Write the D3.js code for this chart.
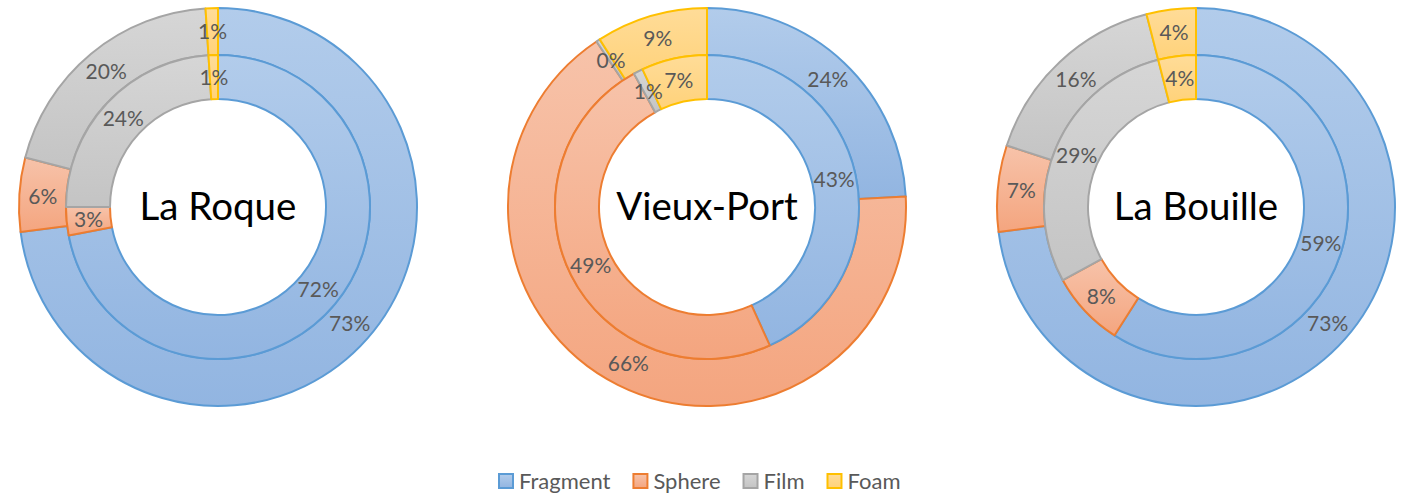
<!DOCTYPE html>
<html lang="en">
<head>
<meta charset="UTF-8">
<title>Double doughnuts</title>
<script src="https://d3js.org/d3.v7.min.js"></script>
<style>
    body { margin: 0; background: #fff; }
    svg { font-family: Lato, "Open Sans", sans-serif; }
</style>
</head>
<body>
<div id="chart"></div>
<script>
// data
var categories = ["Fragment", "Sphere", "Film", "Foam"];
var sites = ["La Roque", "Vieux-Port", "La Bouille"];
var innerValues = [
    [72, 3, 24, 1],
    [43.4, 49, 1, 7],
    [59, 8, 29, 4]
];
var outerValues = [
    [73, 6, 20, 1],
    [24, 66, 0.3, 9],
    [73, 7, 16, 4]
];

var width = 1410, height = 498;
var fills = [["#b2cceb", "#92b5e1"], ["#f7c3aa", "#f4a57f"], ["#d6d6d6", "#c4c4c4"], ["#ffdc98", "#ffd27a"]];
var strokes = ["#5b9bd5", "#ed7d31", "#a5a5a5", "#ffc000"];

var svg = d3.select("#chart").append("svg")
    .attr("width", width)
    .attr("height", height);

var defs = svg.append("defs");
categories.forEach(function(c, i) {
    var grad = defs.append("linearGradient")
        .attr("id", "grad" + i)
        .attr("x1", 0).attr("y1", 0).attr("x2", 0).attr("y2", 1);
    grad.append("stop").attr("offset", "0%").attr("stop-color", fills[i][0]);
    grad.append("stop").attr("offset", "100%").attr("stop-color", fills[i][1]);
});

var centers = d3.scalePoint().domain(sites).range([218, 1196]);
var cy = 207;
var rHole = 108, rMid = 152, rOut = 199;

var pie = d3.pie().sort(null).value(function(d) { return d; });
var innerArc = d3.arc().innerRadius(rHole).outerRadius(rMid);
var outerArc = d3.arc().innerRadius(rMid).outerRadius(rOut);

sites.forEach(function(site, s) {
    var g = svg.append("g")
        .attr("transform", "translate(" + centers(site) + "," + cy + ")");

    var rings = [
        { values: outerValues[s], arc: outerArc },
        { values: innerValues[s], arc: innerArc }
    ];

    rings.forEach(function(ring) {
        var slices = pie(ring.values);
        g.append("g").selectAll("path")
            .data(slices)
            .enter().append("path")
            .attr("d", ring.arc)
            .attr("fill", function(d, i) { return "url(#grad" + i + ")"; })
            .attr("stroke", function(d, i) { return strokes[i]; })
            .attr("stroke-width", 2)
            .attr("stroke-linejoin", "round");

        g.append("g").selectAll("text")
            .data(slices)
            .enter().append("text")
            .attr("transform", function(d) { return "translate(" + ring.arc.centroid(d) + ")"; })
            .attr("text-anchor", "middle")
            .attr("dy", "0.36em")
            .attr("fill", "#595959")
            .style("font-size", "21px")
            .text(function(d) { return Math.round(d.data) + "%"; });
    });

    g.append("text")
        .attr("text-anchor", "middle")
        .attr("dy", "0.35em")
        .attr("fill", "#000")
        .style("font-size", "38.5px")
        .text(site);
});

// legend
var legend = svg.append("g").attr("transform", "translate(498,481)");
var lx = 0;
categories.forEach(function(c, i) {
    var item = legend.append("g").attr("transform", "translate(" + lx + ",0)");
    item.append("rect")
        .attr("x", 1).attr("y", -7)
        .attr("width", 14).attr("height", 14)
        .attr("fill", "url(#grad" + i + ")")
        .attr("stroke", strokes[i])
        .attr("stroke-width", 2);
    var t = item.append("text")
        .attr("x", 21)
        .attr("dy", "0.36em")
        .attr("fill", "#595959")
        .style("font-size", "22px")
        .text(c);
    lx += 21 + t.node().getComputedTextLength() + 22;
});
</script>
</body>
</html>
